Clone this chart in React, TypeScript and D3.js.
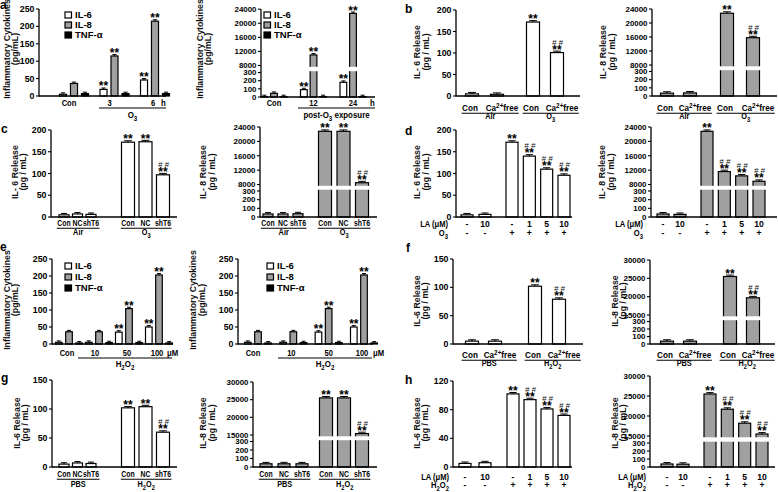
import React from "react";
import * as d3 from "d3";

const FONT = "'Liberation Sans', Arial, Helvetica, sans-serif";
const GRAY = "#a0a0a0";

// ---------------- DATA ----------------
const seriesNames = ["IL-6", "IL-8", "TNF-α"];

// panel a (O3 time course)
const o3Groups = ["Con", "3", "6"];
const o3IL6 = [5, 19, 46];
const o3IL8 = [36, 115, 215];
const o3TNF = [7, 7, 7];
const o3Stars = [["", "**", "**"], ["", "**", "**"], ["", "", ""]];

// panel a (post-O3 exposure)
const postGroups = ["Con", "12", "24"];
const postIL6 = [5, 90, 180];
const postIL8 = [45, 11000, 22800];
const postTNF = [5, 5, 5];
const postStars = [["", "**", "**"], ["", "**", "**"], ["", "", ""]];

// panel e (H2O2 dose)
const h2o2Groups = ["Con", "10", "50", "100"];
const h2o2IL6 = [5, 5, 35, 50];
const h2o2IL8 = [36, 36, 104, 203];
const h2o2TNF = [3, 4, 4, 3];
const h2o2Stars = [["", "", "**", "**"], ["", "", "**", "**"], ["", "", "", ""]];

// category labels
const caCats = ["Con", "Ca^{2+}free", "Con", "Ca^{2+}free"];
const shCats = ["Con", "NC", "shT6", "Con", "NC", "shT6"];
const laDoses = ["-", "10", "-", "1", "5", "10"];
const stimSigns = ["-", "-", "+", "+", "+", "+"];

// panel b
const bIL6 = [5, 4, 172, 101];
const bIL8 = [35, 38, 22800, 15800];
const bStars = ["", "", "**", "**"];
const bHash = ["", "", "", "##"];
// panel c
const cIL6 = [5, 7, 6, 172, 173, 97];
const cIL8 = [35, 35, 38, 22800, 22800, 8500];
const cStars = ["", "", "", "**", "**", "**"];
const cHash = ["", "", "", "", "", "##"];
// panel d
const dIL6 = [5, 6, 172, 140, 110, 96];
const dIL8 = [35, 30, 22800, 11600, 10400, 8900];
const dStars = ["", "", "**", "**", "**", "**"];
const dHash = ["", "", "", "##", "##", "##"];
// panel f
const fIL6 = [5, 5, 102, 79];
const fIL8 = [38, 38, 25500, 19700];
// panel g
const gIL6 = [5, 7, 6, 102, 104, 60];
const gIL8 = [38, 38, 38, 25500, 25500, 15400];
// panel h
const hIL6 = [5, 6, 102, 94, 81, 72];
const hIL8 = [38, 35, 25500, 21700, 18200, 15500];

// tick values
const ticks250 = [0, 50, 100, 150, 200, 250];
const ticks200 = [0, 50, 100, 150, 200];
const ticks150 = [0, 50, 100, 150];
const ticks120 = [0, 40, 80, 120];
const lowTicks = [0, 100, 200, 300];
const upTicks24k = [8000, 12000, 16000, 20000, 24000];
const upTicks30k = [15000, 20000, 25000, 30000];

// ---------------- helpers ----------------
const CAT_SIZE = 8.6;

type Seg = { t: string; k: "n" | "sub" | "sup" };
function parseRich(s: string): Seg[] {
  const out: Seg[] = [];
  const re = /([_^])\{([^}]*)\}/g;
  let last = 0;
  let m: RegExpExecArray | null;
  while ((m = re.exec(s))) {
    if (m.index > last) out.push({ t: s.slice(last, m.index), k: "n" });
    out.push({ t: m[2], k: m[1] === "_" ? "sub" : "sup" });
    last = re.lastIndex;
  }
  if (last < s.length) out.push({ t: s.slice(last), k: "n" });
  return out;
}
let ctx: CanvasRenderingContext2D | null = null;
function measure(s: string, size: number, sx = 1): number {
  if (!ctx) ctx = document.createElement("canvas").getContext("2d");
  if (!ctx) return s.length * size * 0.55 * sx;
  let w = 0;
  for (const g of parseRich(s)) {
    ctx.font = `bold ${g.k === "n" ? size : size * 0.78}px 'Liberation Sans'`;
    w += ctx.measureText(g.t).width;
  }
  return w * sx;
}
function Rich(props: { x: number; y: number; s: string; size: number; anchor?: string; fill?: string; sx?: number }) {
  const { x, y, s, size, anchor = "middle", fill = "#000", sx = 1 } = props;
  const segs = parseRich(s);
  let cur = 0;
  return (
    <text transform={`translate(${x},${y}) scale(${sx},1)`} fontSize={size} fontWeight="bold" textAnchor={anchor} fill={fill} fontFamily={FONT}>
      {segs.map((g, i) => {
        const target = g.k === "sub" ? size * 0.3 : g.k === "sup" ? -size * 0.38 : 0;
        const dy = target - cur;
        cur = target;
        return (
          <tspan key={i} dy={dy} fontSize={g.k === "n" ? size : size * 0.78}>
            {g.t}
          </tspan>
        );
      })}
    </text>
  );
}

interface Brk { lowMax: number; lowTop: number; highMin: number; highBottom: number; highMax: number; highTop: number }
interface YL { ax: number; axEnd: number; y0: number; yTop?: number; max?: number; brk?: Brk }

function makeY(L: YL) {
  if (L.brk) {
    const b = L.brk;
    const low = d3.scaleLinear().domain([0, b.lowMax]).range([L.y0, b.lowTop]);
    const high = d3.scaleLinear().domain([b.highMin, b.highMax]).range([b.highBottom, b.highTop]);
    return (v: number) => (v <= b.lowMax ? low(v) : high(v));
  }
  const s = d3.scaleLinear().domain([0, L.max as number]).range([L.y0, L.yTop as number]);
  return (v: number) => s(v);
}

function YAxis(props: { L: YL; ticks: number[]; up?: number[]; y: (v: number) => number }) {
  const { L, ticks, up = [], y } = props;
  const top = L.brk ? L.brk.highTop : (L.yTop as number);
  const all = [...ticks, ...up];
  return (
    <g>
      <line x1={L.ax} x2={L.ax} y1={L.y0 + 0.6} y2={top} stroke="#000" strokeWidth={1.3} />
      <line x1={L.ax} x2={L.axEnd} y1={L.y0} y2={L.y0} stroke="#000" strokeWidth={1.3} />
      {all.map((t) => (
        <g key={t}>
          <line x1={L.ax - 3} x2={L.ax} y1={y(t)} y2={y(t)} stroke="#000" strokeWidth={1.1} />
          <text x={L.ax - 4.5} y={y(t)} dy="0.35em" textAnchor="end" fontSize={L.brk ? 7.9 : 8.8} fontWeight="bold" fontFamily={FONT}>
            {t}
          </text>
        </g>
      ))}
    </g>
  );
}

function BreakBand({ L }: { L: YL }) {
  if (!L.brk) return null;
  const b = L.brk;
  return <rect x={L.ax - 3} y={b.highBottom + 1.3} width={L.axEnd - L.ax + 4} height={Math.max(1.5, b.lowTop - b.highBottom - 2.6)} fill="#fff" />;
}

function YLabel({ lines, xs, yc }: { lines: string[]; xs: number[]; yc: number }) {
  return (
    <g>
      {lines.map((l, i) => (
        <text key={i} transform={`translate(${xs[i] + 3},${yc}) rotate(-90)`} textAnchor="middle" fontSize={8.8} fontWeight="bold" fontFamily={FONT} fill="#111">
          {l}
        </text>
      ))}
    </g>
  );
}

function Bar({ cx, bw, top, y0, fill }: { cx: number; bw: number; top: number; y0: number; fill: string }) {
  return (
    <g>
      <rect x={cx - bw / 2} y={top} width={bw} height={Math.max(0, y0 - top)} fill={fill} stroke="#000" strokeWidth={1.2} />
      <line x1={cx} x2={cx} y1={top} y2={top - 1.4} stroke="#000" strokeWidth={1} />
      <line x1={cx - bw * 0.3} x2={cx + bw * 0.3} y1={top - 1.4} y2={top - 1.4} stroke="#000" strokeWidth={1} />
    </g>
  );
}

function Marks({ cx, top, star, hash }: { cx: number; top: number; star: string; hash: string }) {
  return (
    <g fontFamily={FONT}>
      {star && (
        <text x={cx} y={top + 2.5} textAnchor="middle" fontSize={12} fontWeight="bold">
          {star}
        </text>
      )}
      {hash && (
        <text x={cx + 0.5} y={top - 6.5} textAnchor="middle" fontSize={8} fontStyle="italic" fill="#111">
          {hash.split("").join(" ")}
        </text>
      )}
    </g>
  );
}

// ---------------- simple panels ----------------
interface SimpleCfg {
  values: number[];
  stars: string[];
  hashes: string[];
  fill: string;
  groupSizes: number[];
  cats?: string[];
  catSx?: number;
  catDx?: number[];
  groupLabels?: string[];
  rows?: { label: string; vals: string[] }[];
  ticks: number[];
  up?: number[];
  yLabel: string[];
  L: YL & { centers: [number, number][]; bw: number[]; catY?: number; groupY?: number; rowY?: number[]; rowLabelX?: number; ylx: number[]; yly: number };
}

function SimplePanel({ c }: { c: SimpleCfg }) {
  const L = c.L;
  const y = makeY(L);
  const sxCat = c.catSx ?? 0.8;
  const bars: { i: number; cx: number; bw: number; g: number; j: number }[] = [];
  let idx = 0;
  c.groupSizes.forEach((n, gi) => {
    const xp = d3.scalePoint<number>().domain(d3.range(n)).range(L.centers[gi]);
    for (let j = 0; j < n; j++) {
      bars.push({ i: idx, cx: xp(j) as number, bw: L.bw[gi], g: gi, j });
      idx++;
    }
  });
  return (
    <g>
      {bars.map((b) => (
        <Bar key={b.i} cx={b.cx} bw={b.bw} top={y(c.values[b.i])} y0={L.y0} fill={c.fill} />
      ))}
      <BreakBand L={L} />
      <YAxis L={L} ticks={c.ticks} up={c.up} y={y} />
      {bars.map((b) => (
        <Marks key={b.i} cx={b.cx} top={y(c.values[b.i]) - 1.4} star={c.stars[b.i]} hash={c.hashes[b.i]} />
      ))}
      <YLabel lines={c.yLabel} xs={L.ylx} yc={L.yly} />
      {c.cats &&
        c.groupSizes.map((n, gi) => {
          const gb = bars.filter((b) => b.g === gi);
          const items = gb.map((b) => {
            const s = (c.cats as string[])[b.i];
            const w = measure(s, CAT_SIZE, sxCat);
            const cx = b.cx + (c.catDx ? c.catDx[b.j] : 0);
            return { s, w, cx };
          });
          const x1 = items[0].cx - items[0].w / 2 - 0.5;
          const last = items[items.length - 1];
          const x2 = last.cx + last.w / 2 + 0.5;
          return (
            <g key={gi}>
              {items.map((it, k) => (
                <Rich key={k} x={it.cx} y={L.catY as number} s={it.s} size={CAT_SIZE} sx={sxCat} />
              ))}
              <line x1={x1} x2={x2} y1={(L.catY as number) + 2.2} y2={(L.catY as number) + 2.2} stroke="#000" strokeWidth={1.1} />
              <Rich x={(x1 + x2) / 2} y={L.groupY as number} s={(c.groupLabels as string[])[gi]} size={CAT_SIZE} sx={0.85} />
            </g>
          );
        })}
      {c.rows &&
        c.rows.map((r, ri) => (
          <g key={ri}>
            <Rich x={L.rowLabelX as number} y={(L.rowY as number[])[ri]} s={r.label} size={CAT_SIZE} sx={0.88} anchor="end" />
            {bars.map((b) => (
              <text key={b.i} x={b.cx} y={(L.rowY as number[])[ri]} textAnchor="middle" fontSize={CAT_SIZE} fontWeight="bold" fontFamily={FONT}>
                {r.vals[b.i]}
              </text>
            ))}
          </g>
        ))}
    </g>
  );
}

// ---------------- grouped panels ----------------
interface GroupCfg {
  groups: string[];
  series: number[][];
  stars: string[][];
  suffix: string;
  stim: string;
  ticks: number[];
  up?: number[];
  yLabel: string[];
  L: YL & { gc: [number, number]; inner: [number, number]; pad: number; labelDx: number[]; groupY: number; ul: [number, number]; ulY: number; stimY: number; suffixX: number; legend: [number, number]; legStep: number; ylx: number[]; yly: number };
}
const seriesFills = ["#fff", GRAY, "#000"];

function GroupPanel({ c }: { c: GroupCfg }) {
  const L = c.L;
  const y = makeY(L);
  const gx = d3.scalePoint<string>().domain(c.groups).range(L.gc);
  const sx = d3.scaleBand<string>().domain(seriesNames).range(L.inner).paddingInner(L.pad);
  const bw = sx.bandwidth();
  const size = 8.6;
  return (
    <g>
      {c.groups.map((g, gi) =>
        seriesNames.map((s, si) => {
          const cx = (gx(g) as number) + (sx(s) as number) + bw / 2;
          return <Bar key={g + s} cx={cx} bw={bw} top={y(c.series[si][gi])} y0={L.y0} fill={seriesFills[si]} />;
        })
      )}
      <BreakBand L={L} />
      <YAxis L={L} ticks={c.ticks} up={c.up} y={y} />
      {c.groups.map((g, gi) =>
        seriesNames.map((s, si) => {
          const cx = (gx(g) as number) + (sx(s) as number) + bw / 2;
          return <Marks key={g + s} cx={cx} top={y(c.series[si][gi]) - 1.4} star={c.stars[si][gi]} hash="" />;
        })
      )}
      {seriesNames.map((s, si) => (
        <g key={s}>
          <rect x={L.legend[0]} y={L.legend[1] + si * L.legStep} width={6.5} height={6} fill={seriesFills[si]} stroke="#000" strokeWidth={1.2} />
          <text x={L.legend[0] + 10} y={L.legend[1] + si * L.legStep + 6.3} fontSize={9.5} fontWeight="bold" fontFamily={FONT}>
            {s}
          </text>
        </g>
      ))}
      {c.groups.map((g, gi) => (
        <Rich key={g} x={(gx(g) as number) + L.labelDx[gi]} y={L.groupY} s={g} size={size} sx={0.88} />
      ))}
      <Rich x={L.suffixX} y={L.groupY} s={c.suffix} size={size} sx={0.9} anchor="start" />
      <line x1={L.ul[0]} x2={L.ul[1]} y1={L.ulY} y2={L.ulY} stroke="#000" strokeWidth={1.1} />
      <Rich x={(L.ul[0] + L.ul[1]) / 2} y={L.stimY} s={c.stim} size={size} sx={0.92} />
      <YLabel lines={c.yLabel} xs={L.ylx} yc={L.yly} />
    </g>
  );
}

// ---------------- layouts ----------------
const brk24 = (lowTop: number, highBottom: number, highTop: number): Brk => ({ lowMax: 300, lowTop, highMin: 8000, highBottom, highMax: 24000, highTop });
const brk30 = (lowTop: number, highBottom: number, highTop: number): Brk => ({ lowMax: 300, lowTop, highMin: 15000, highBottom, highMax: 30000, highTop });

const cytoLabel = ["Inflammatory Cytokines", "(pg/mL)"];
const il6LabelA = ["IL- 6 Release", "(pg / mL)"];
const il8LabelA = ["IL- 8 Release", "(pg / mL)"];
const il6LabelB = ["IL-6 Release", "(pg / mL)"];
const il8LabelB = ["IL-8 Release", "(pg / mL)"];

const groupPanels: GroupCfg[] = [
  {
    groups: o3Groups, series: [o3IL6, o3IL8, o3TNF], stars: o3Stars, suffix: "h", stim: "O_{3}", ticks: ticks250, yLabel: cytoLabel,
    L: { ax: 39, axEnd: 166, y0: 96, yTop: 9, max: 250, gc: [74, 155], inner: [-14.5, 14.5], pad: 0.36, labelDx: [-5, -5, -2], groupY: 106, ul: [99, 166], ulY: 108, stimY: 118, suffixX: 161, legend: [65, 12], legStep: 10, ylx: [7, 15], yly: 49 },
  },
  {
    groups: postGroups, series: [postIL6, postIL8, postTNF], stars: postStars, suffix: "h", stim: "post-O_{3} exposure", ticks: lowTicks, up: upTicks24k, yLabel: cytoLabel,
    L: { ax: 261, axEnd: 375, y0: 97, brk: brk24(72.5, 65.5, 9.2), gc: [274, 353], inner: [-13, 13], pad: 0.3, labelDx: [0, 0, 0], groupY: 106, ul: [298, 375], ulY: 108, stimY: 118, suffixX: 370, legend: [264, 12], legStep: 10, ylx: [200, 208], yly: 49 },
  },
  {
    groups: h2o2Groups, series: [h2o2IL6, h2o2IL8, h2o2TNF], stars: h2o2Stars, suffix: "μM", stim: "H_{2}O_{2}", ticks: ticks250, yLabel: cytoLabel,
    L: { ax: 52, axEnd: 173, y0: 344, yTop: 259, max: 250, gc: [69, 159], inner: [-13.5, 13.5], pad: 0.35, labelDx: [-2, -4, -2, -2], groupY: 356, ul: [78, 172], ulY: 358, stimY: 367, suffixX: 167, legend: [65, 263], legStep: 11, ylx: [7, 15], yly: 300 },
  },
  {
    groups: h2o2Groups, series: [h2o2IL6, h2o2IL8, h2o2TNF], stars: h2o2Stars, suffix: "μM", stim: "H_{2}O_{2}", ticks: ticks250, yLabel: cytoLabel,
    L: { ax: 238, axEnd: 373, y0: 344, yTop: 259, max: 250, gc: [258, 364], inner: [-13.5, 13.5], pad: 0.35, labelDx: [-5, -2, 0, -2], groupY: 356, ul: [278, 372], ulY: 358, stimY: 367, suffixX: 373, legend: [267, 263], legStep: 11, ylx: [193, 202], yly: 300 },
  },
];

const simplePanels: SimpleCfg[] = [
  // b
  { values: bIL6, stars: bStars, hashes: bHash, fill: "#fff", groupSizes: [2, 2], cats: caCats, catSx: 0.95, catDx: [-2, 5], groupLabels: ["Air", "O_{3}"], ticks: ticks200, yLabel: il6LabelA,
    L: { ax: 456, axEnd: 580, y0: 96, yTop: 10, max: 200, centers: [[472, 497], [533, 557]], bw: [13, 13], catY: 111, groupY: 119, ylx: [417, 426], yly: 52 } },
  { values: bIL8, stars: bStars, hashes: bHash, fill: GRAY, groupSizes: [2, 2], cats: caCats, catSx: 0.95, catDx: [-2, 5], groupLabels: ["Air", "O_{3}"], ticks: lowTicks, up: upTicks24k, yLabel: il8LabelA,
    L: { ax: 652, axEnd: 777, y0: 96, brk: brk24(71.5, 65, 9), centers: [[667, 690], [727, 753]], bw: [13, 13], catY: 111, groupY: 119, ylx: [603, 612], yly: 52 } },
  // c
  { values: cIL6, stars: cStars, hashes: cHash, fill: "#fff", groupSizes: [3, 3], cats: shCats, groupLabels: ["Air", "O_{3}"], ticks: ticks200, yLabel: il6LabelA,
    L: { ax: 51, axEnd: 177, y0: 217, yTop: 130, max: 200, centers: [[64, 91], [128, 163]], bw: [10, 13], catY: 226, groupY: 235, ylx: [15, 23], yly: 172 } },
  { values: cIL8, stars: cStars, hashes: cHash, fill: GRAY, groupSizes: [3, 3], cats: shCats, groupLabels: ["Air", "O_{3}"], ticks: lowTicks, up: upTicks24k, yLabel: il8LabelA,
    L: { ax: 260, axEnd: 377, y0: 217, brk: brk24(191, 184.5, 127), centers: [[268, 298], [325, 362]], bw: [10, 13], catY: 226, groupY: 235, ylx: [203, 212], yly: 172 } },
  // d
  { values: dIL6, stars: dStars, hashes: dHash, fill: "#fff", groupSizes: [2, 4], rows: [{ label: "LA (μM)", vals: laDoses }, { label: "O_{3}", vals: stimSigns }], ticks: ticks200, yLabel: il6LabelA,
    L: { ax: 456, axEnd: 572, y0: 217, yTop: 130, max: 200, centers: [[467, 485], [512, 564]], bw: [12, 12], rowY: [227, 236], rowLabelX: 448, ylx: [417, 426], yly: 172 } },
  { values: dIL8, stars: dStars, hashes: dHash, fill: GRAY, groupSizes: [2, 4], rows: [{ label: "LA (μM)", vals: laDoses }, { label: "O_{3}", vals: stimSigns }], ticks: lowTicks, up: upTicks24k, yLabel: il8LabelA,
    L: { ax: 651, axEnd: 777, y0: 217, brk: brk24(191, 184.5, 127), centers: [[663, 680], [707, 759]], bw: [12, 12], rowY: [227, 236], rowLabelX: 643, ylx: [602, 611], yly: 172 } },
  // f
  { values: fIL6, stars: bStars, hashes: bHash, fill: "#fff", groupSizes: [2, 2], cats: caCats, catSx: 0.95, catDx: [-2, 5], groupLabels: ["PBS", "H_{2}O_{2}"], ticks: ticks150, yLabel: il6LabelB,
    L: { ax: 453, axEnd: 583, y0: 344, yTop: 259, max: 150, centers: [[472, 495], [535, 559]], bw: [13, 13], catY: 358, groupY: 366, ylx: [417, 425], yly: 301 } },
  { values: fIL8, stars: bStars, hashes: bHash, fill: GRAY, groupSizes: [2, 2], cats: caCats, catSx: 0.95, catDx: [-2, 5], groupLabels: ["PBS", "H_{2}O_{2}"], ticks: lowTicks, up: upTicks30k, yLabel: il8LabelB,
    L: { ax: 650, axEnd: 775, y0: 344, brk: brk30(321.5, 315, 260), centers: [[667, 690], [730, 753]], bw: [13, 13], catY: 358, groupY: 366, ylx: [615, 623], yly: 301 } },
  // g
  { values: gIL6, stars: cStars, hashes: cHash, fill: "#fff", groupSizes: [3, 3], cats: shCats, groupLabels: ["PBS", "H_{2}O_{2}"], ticks: ticks150, yLabel: il6LabelB,
    L: { ax: 52, axEnd: 177, y0: 467, yTop: 380, max: 150, centers: [[64, 91], [128, 163]], bw: [10, 13], catY: 477, groupY: 487, ylx: [17, 25], yly: 423 } },
  { values: gIL8, stars: cStars, hashes: cHash, fill: GRAY, groupSizes: [3, 3], cats: shCats, groupLabels: ["PBS", "H_{2}O_{2}"], ticks: lowTicks, up: upTicks30k, yLabel: il8LabelB,
    L: { ax: 253, axEnd: 377, y0: 467, brk: brk30(441.5, 435, 382), centers: [[266, 302], [326, 362]], bw: [12, 13], catY: 477, groupY: 487, ylx: [203, 212], yly: 423 } },
  // h
  { values: hIL6, stars: dStars, hashes: dHash, fill: "#fff", groupSizes: [2, 4], rows: [{ label: "LA (μM)", vals: laDoses }, { label: "H_{2}O_{2}", vals: stimSigns }], ticks: ticks120, yLabel: il6LabelB,
    L: { ax: 453, axEnd: 572, y0: 467, yTop: 381, max: 120, centers: [[465, 485], [513, 564]], bw: [12, 12], rowY: [480, 488], rowLabelX: 449, ylx: [417, 425], yly: 423 } },
  { values: hIL8, stars: dStars, hashes: dHash, fill: GRAY, groupSizes: [2, 4], rows: [{ label: "LA (μM)", vals: laDoses }, { label: "H_{2}O_{2}", vals: stimSigns }], ticks: lowTicks, up: upTicks30k, yLabel: il8LabelB,
    L: { ax: 650, axEnd: 775, y0: 467, brk: brk30(443, 436, 376), centers: [[667, 683], [710, 762]], bw: [12, 12], rowY: [480, 488], rowLabelX: 646, ylx: [615, 623], yly: 423 } },
];

const panelLetters = [
  { ch: "a", x: 0, y: 9 },
  { ch: "b", x: 405, y: 13 },
  { ch: "c", x: 1, y: 133 },
  { ch: "d", x: 405, y: 135 },
  { ch: "e", x: 0, y: 251 },
  { ch: "f", x: 406, y: 252 },
  { ch: "g", x: 1, y: 382 },
  { ch: "h", x: 405, y: 384 },
];

export default function App() {
  return (
    <svg width={778} height={492} viewBox="0 0 778 492" style={{ position: "absolute", left: 0, top: 0, background: "#fff" }} fontFamily={FONT}>
      <rect width={778} height={492} fill="#fff" />
      {groupPanels.map((c, i) => (
        <GroupPanel key={"g" + i} c={c} />
      ))}
      {simplePanels.map((c, i) => (
        <SimplePanel key={"s" + i} c={c} />
      ))}
      {panelLetters.map((p) => (
        <text key={p.ch} x={p.x} y={p.y} fontSize={12} fontWeight="bold" fontFamily={FONT}>
          {p.ch}
        </text>
      ))}
    </svg>
  );
}
